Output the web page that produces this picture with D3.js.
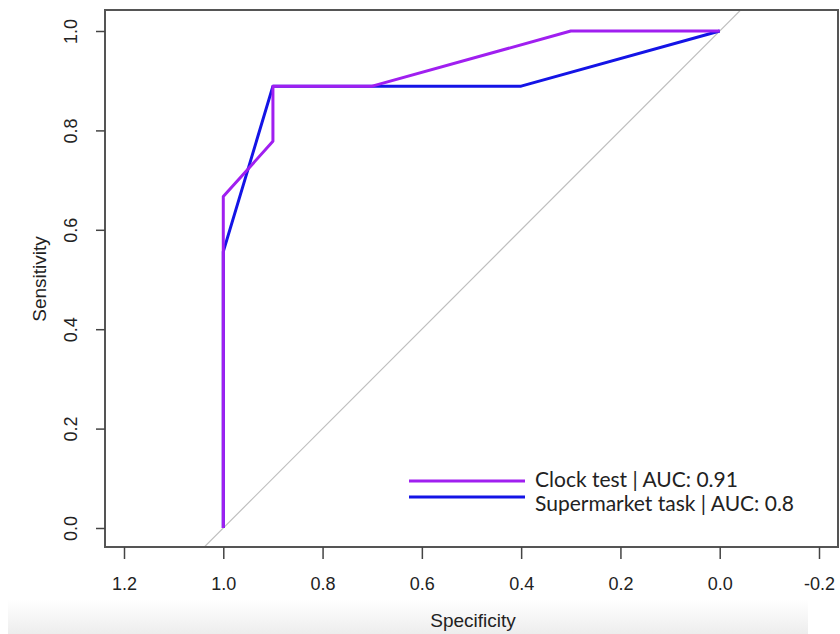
<!DOCTYPE html>
<html>
<head>
<meta charset="UTF-8">
<script src="https://d3js.org/d3.v7.min.js"></script>
<style>
  body { margin: 0; background: #fff; }
  svg { display: block; }
  .tick text { font-family: "Liberation Sans", Arial, sans-serif; font-size: 18px; fill: #222; }
</style>
</head>
<body>
<svg width="840" height="634"></svg>
<script>
// ROC data (specificity, sensitivity)
const clockSpec = [1, 1, 0.9, 0.9, 0.7, 0.3, 0];
const clockSens = [0, 0.667, 0.778, 0.889, 0.889, 1, 1];
const superSpec = [1, 1, 0.9, 0.4, 0];
const superSens = [0, 0.556, 0.889, 0.889, 1];

const xTicks = [1.2, 1.0, 0.8, 0.6, 0.4, 0.2, 0.0, -0.2];
const yTicks = [0, 0.2, 0.4, 0.6, 0.8, 1.0];
const legendLabels = ["Clock test | AUC: 0.91", "Supermarket task | AUC: 0.8"];
const colors = ["#a01ff0", "#1414e6"];

const svg = d3.select("svg");

// bottom gray band (screenshot artifact)
const defs = svg.append("defs");
const grad = defs.append("linearGradient").attr("id", "band")
    .attr("x1", 0).attr("y1", 0).attr("x2", 0).attr("y2", 1);
grad.append("stop").attr("offset", "0%").attr("stop-color", "#fff");
grad.append("stop").attr("offset", "100%").attr("stop-color", "#ededed");
svg.append("rect").attr("x", 8).attr("y", 600).attr("width", 800).attr("height", 34)
    .attr("fill", "url(#band)");

const x = d3.scaleLinear().domain([1.2, -0.2]).range([124, 819]);
const y = d3.scaleLinear().domain([0, 1]).range([528, 31]);

const frame = { left: 105, right: 838, top: 10, bottom: 547 };

defs.append("clipPath").attr("id", "clip")
    .append("rect")
    .attr("x", frame.left).attr("y", frame.top)
    .attr("width", frame.right - frame.left).attr("height", frame.bottom - frame.top);

// diagonal reference line
const plot = svg.append("g").attr("clip-path", "url(#clip)");
const s0 = x.invert(frame.left - 50), s1 = x.invert(frame.right + 50);
plot.append("line")
    .attr("x1", x(s0)).attr("y1", y(1 - s0))
    .attr("x2", x(s1)).attr("y2", y(1 - s1))
    .attr("stroke", "#bebebe").attr("stroke-width", 1.2);

const line = d3.line().x(d => x(d[0])).y(d => y(d[1]));

plot.append("path")
    .datum(d3.zip(superSpec, superSens))
    .attr("d", line).attr("fill", "none")
    .attr("stroke", colors[1]).attr("stroke-width", 3).attr("stroke-linejoin", "round");

plot.append("path")
    .datum(d3.zip(clockSpec, clockSens))
    .attr("d", line).attr("fill", "none")
    .attr("stroke", colors[0]).attr("stroke-width", 3).attr("stroke-linejoin", "round");

// frame
svg.append("rect")
    .attr("x", frame.left).attr("y", frame.top)
    .attr("width", frame.right - frame.left).attr("height", frame.bottom - frame.top)
    .attr("fill", "none").attr("stroke", "#555").attr("stroke-width", 2);

// axes
const fmt = d => d.toFixed(1);

const xAxis = svg.append("g")
    .attr("transform", `translate(0,${frame.bottom})`)
    .call(d3.axisBottom(x).tickValues(xTicks).tickFormat(fmt).tickSize(12).tickPadding(18));
xAxis.select(".domain").remove();
xAxis.selectAll(".tick line").attr("stroke", "#444").attr("stroke-width", 1.5);

const yAxis = svg.append("g")
    .attr("transform", `translate(${frame.left},0)`)
    .call(d3.axisLeft(y).tickValues(yTicks).tickFormat(fmt).tickSize(9));
yAxis.select(".domain").remove();
yAxis.selectAll(".tick line").attr("stroke", "#444").attr("stroke-width", 1.5);
yAxis.selectAll(".tick text")
    .attr("x", 0).attr("dy", null)
    .attr("text-anchor", "middle")
    .attr("transform", "translate(-33,0) rotate(-90)")
    .attr("dominant-baseline", "middle");

// axis titles
svg.append("text")
    .attr("x", 473).attr("y", 627)
    .attr("text-anchor", "middle")
    .style("font-family", "Liberation Sans, Arial, sans-serif").style("font-size", "19px")
    .attr("fill", "#222")
    .text("Specificity");

svg.append("text")
    .attr("transform", "translate(46,279) rotate(-90)")
    .attr("text-anchor", "middle")
    .style("font-family", "Liberation Sans, Arial, sans-serif").style("font-size", "19px")
    .attr("fill", "#222")
    .text("Sensitivity");

// legend
const legend = svg.append("g");
legendLabels.forEach((lab, i) => {
    const ly = 481 + i * 16;
    legend.append("line")
        .attr("x1", 409).attr("x2", 525).attr("y1", ly).attr("y2", ly)
        .attr("stroke", colors[i]).attr("stroke-width", 3);
    legend.append("text")
        .attr("x", 535).attr("y", 487 + i * 24)
        .style("font-family", "Lato, 'Open Sans', sans-serif").style("font-size", "21px")
        .attr("fill", "#222")
        .text(lab);
});
</script>
</body>
</html>
